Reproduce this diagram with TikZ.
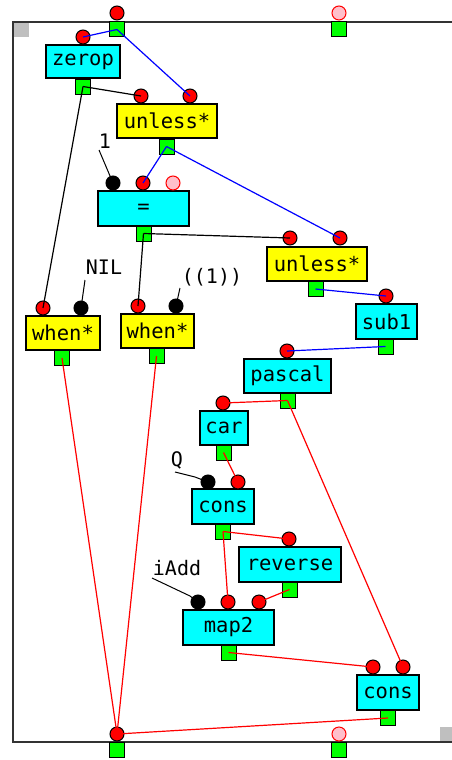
\documentclass[tikz,border=0pt]{standalone}
\usepackage{fontspec}
\setmonofont{DejaVu Sans Mono}
\definecolor{fncyan}{RGB}{0,255,255}
\definecolor{fnyellow}{RGB}{255,255,0}
\definecolor{portgreen}{RGB}{0,255,0}
\definecolor{portred}{RGB}{255,0,0}
\definecolor{portpink}{RGB}{255,192,203}
\definecolor{flowblue}{RGB}{0,0,255}
\begin{document}
\begin{tikzpicture}[x=1pt,y=-1pt,
  fnbox/.style={draw=black, line width=1.3pt, inner sep=0pt,
    font=\ttfamily\fontsize{20.5}{20.5}\selectfont},
  cyanbox/.style={fnbox, fill=fncyan},
  yelbox/.style={fnbox, fill=fnyellow},
  inport/.style={circle, draw=black, line width=1pt, fill=portred,
    minimum size=14pt, inner sep=0pt},
  constport/.style={inport, fill=black},
  freeport/.style={circle, draw=portred, line width=1pt, fill=portpink,
    minimum size=14pt, inner sep=0pt},
  outport/.style={draw=black, line width=1pt, fill=portgreen,
    minimum size=15pt, inner sep=0pt},
  constlabel/.style={inner sep=0pt, font=\ttfamily\fontsize{20}{20}\selectfont},
  ctrl/.style={draw=flowblue, line width=1.2pt},
  dataline/.style={draw=portred, line width=1.2pt},
  plainline/.style={draw=black, line width=1.2pt},
  constline/.style={draw=black, line width=1pt},
  frameline/.style={draw=black!80, line width=1.6pt},
  cornerbox/.style={fill=black!25}
]
\useasboundingbox (0,0) rectangle (452,760);

% frame of the function body
\fill[cornerbox] (14,23) rectangle (29,37);
\fill[cornerbox] (440,727) rectangle (452,741);
\draw[frameline] (452,22) -- (13,22) -- (13,742) -- (452,742);

% boundary ports
\node[inport]  (tr)  at (117,13) {};
\node[outport] (ts)  at (117,29.5) {};
\node[freeport](tp)  at (339,13) {};
\node[outport] (tps) at (339,29.5) {};
\node[inport]  (br)  at (117,734) {};
\node[outport] (bs)  at (117,750) {};
\node[freeport](bp)  at (339,734) {};
\node[outport] (bps) at (339,750) {};

% zerop
\node[cyanbox, minimum width=74pt, minimum height=33pt] (zerop) at (83,61.5) {zerop};
\node[inport]  (zi) at (83,37) {};
\node[outport] (zo) at (83,86.5) {};

% first unless*
\node[yelbox, minimum width=100pt, minimum height=34pt] (unlA) at (167,121) {unless*};
\node[inport]  (uAa) at (141,96) {};
\node[inport]  (uAb) at (190,96) {};
\node[outport] (uAo) at (166.5,146.5) {};

% =
\node[cyanbox, minimum width=91pt, minimum height=35pt] (eq) at (143.5,208.5) {=};
\node[constport] (eqa) at (113,183) {};
\node[inport]    (eqb) at (143,183) {};
\node[freeport]  (eqc) at (173,183) {};
\node[outport]   (eqo) at (143.5,233.5) {};

% second unless*
\node[yelbox, minimum width=100pt, minimum height=34pt] (unlB) at (317,264) {unless*};
\node[inport]  (uBa) at (290,238) {};
\node[inport]  (uBb) at (340,238) {};
\node[outport] (uBo) at (315.5,289) {};

% sub1
\node[cyanbox, minimum width=61pt, minimum height=35pt] (sub) at (386.5,321.5) {sub1};
\node[inport]  (si) at (386,296) {};
\node[outport] (so) at (385.5,346.5) {};

% pascal
\node[cyanbox, minimum width=87pt, minimum height=34pt] (pascal) at (287.5,376) {pascal};
\node[inport]  (pi) at (287,351) {};
\node[outport] (po) at (287.5,400.5) {};

% when* (left)
\node[yelbox, minimum width=74pt, minimum height=34pt] (whenA) at (63,333) {when*};
\node[inport]    (wAa) at (43,308) {};
\node[constport] (wAb) at (81,308) {};
\node[outport]   (wAo) at (62,358) {};

% when* (right)
\node[yelbox, minimum width=73pt, minimum height=34pt] (whenB) at (157.5,331) {when*};
\node[inport]    (wBa) at (138,306) {};
\node[constport] (wBb) at (176,306) {};
\node[outport]   (wBo) at (156.5,356) {};

% car
\node[cyanbox, minimum width=48pt, minimum height=34pt] (car) at (224,428) {car};
\node[inport]  (ci) at (223,403) {};
\node[outport] (co) at (223.5,452.5) {};

% cons (upper)
\node[cyanbox, minimum width=62pt, minimum height=35pt] (consA) at (223,506.5) {cons};
\node[constport] (cAa) at (208,482) {};
\node[inport]    (cAb) at (238,482) {};
\node[outport]   (cAo) at (223,531.5) {};

% reverse
\node[cyanbox, minimum width=102pt, minimum height=35pt] (rev) at (290,564.5) {reverse};
\node[inport]  (ri) at (289,539) {};
\node[outport] (ro) at (289.5,589.5) {};

% map2
\node[cyanbox, minimum width=91pt, minimum height=35pt] (map) at (228.5,627.5) {map2};
\node[constport] (ma) at (198,602) {};
\node[inport]    (mb) at (228,602) {};
\node[inport]    (mc) at (259,602) {};
\node[outport]   (mo) at (228.5,652.5) {};

% cons (lower)
\node[cyanbox, minimum width=62pt, minimum height=35pt] (consB) at (388,692.5) {cons};
\node[inport]  (cBa) at (373,667) {};
\node[inport]  (cBb) at (403,667) {};
\node[outport] (cBo) at (388,718) {};

% constants
\node[constlabel] (kone)  at (105,141) {1};
\coordinate (konep) at (99,150);
\node[constlabel] (knil)  at (104,267) {NIL};
\coordinate (knilp) at (85,280);
\node[constlabel] (klist) at (212,277) {((1))};
\coordinate (klistp) at (180,288);
\node[constlabel] (kq)    at (177,460) {Q};
\coordinate (kqp) at (175,472);
\node[constlabel] (kadd)  at (177,568) {iAdd};
\coordinate (kaddp) at (152,578);

\draw[constline] (konep) -- (eqa.center);
\draw[constline] (knilp) -- (wAb.center);
\draw[constline] (klistp) -- (wBb.center);
\draw[constline] (kqp) -- (195,477) -- (cAa.center);
\draw[constline] (kaddp) -- (190,596) -- (ma.center);

% control flow
\draw[ctrl] (ts.center) -- (zi.center);
\draw[ctrl] (ts.center) -- (uAb.center);
\draw[ctrl] (uAo.center) -- (eqb.center);
\draw[ctrl] (uAo.center) -- (uBb.center);
\draw[ctrl] (uBo.center) -- (si.center);
\draw[ctrl] (so.center) -- (pi.center);

% boolean results
\draw[plainline] (zo.center) -- (uAa.center);
\draw[plainline] (zo.center) -- (wAa.center);
\draw[plainline] (eqo.center) -- (uBa.center);
\draw[plainline] (eqo.center) -- (wBa.center);

% data flow
\draw[dataline] (po.center) -- (ci.center);
\draw[dataline] (po.center) -- (cBb.center);
\draw[dataline] (co.center) -- (cAb.center);
\draw[dataline] (cAo.center) -- (ri.center);
\draw[dataline] (cAo.center) -- (mb.center);
\draw[dataline] (ro.center) -- (mc.center);
\draw[dataline] (mo.center) -- (cBa.center);
\draw[dataline] (cBo.center) -- (br.center);
\draw[dataline] (wAo.center) -- (br.center);
\draw[dataline] (wBo.center) -- (br.center);
\end{tikzpicture}
\end{document}
